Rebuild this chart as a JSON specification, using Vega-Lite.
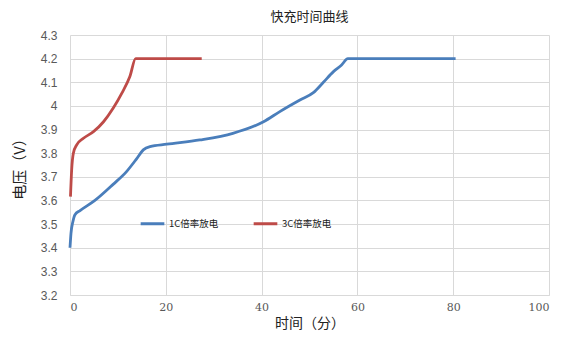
{
  "$schema": "https://vega.github.io/schema/vega-lite/v6.json",
  "width": 479,
  "height": 260,
  "autosize": {"type": "none"},
  "padding": {"left": 70, "top": 35, "right": 24, "bottom": 59},
  "background": "white",
  "title": {"text": "快充时间曲线", "font": "Noto Sans CJK SC", "fontSize": 13, "fontWeight": "normal", "color": "#222222", "offset": 5, "anchor": "middle"},
  "config": {"view": {"stroke": null}},
  "data": {"values": [
    {"t": 0, "v": 3.40, "s": "1C倍率放电"},
    {"t": 0.2, "v": 3.46, "s": "1C倍率放电"},
    {"t": 0.6, "v": 3.51, "s": "1C倍率放电"},
    {"t": 1.04, "v": 3.54, "s": "1C倍率放电"},
    {"t": 2.1, "v": 3.557, "s": "1C倍率放电"},
    {"t": 5.2, "v": 3.60, "s": "1C倍率放电"},
    {"t": 9.0, "v": 3.668, "s": "1C倍率放电"},
    {"t": 11.8, "v": 3.722, "s": "1C倍率放电"},
    {"t": 13.9, "v": 3.776, "s": "1C倍率放电"},
    {"t": 15.3, "v": 3.814, "s": "1C倍率放电"},
    {"t": 16.7, "v": 3.828, "s": "1C倍率放电"},
    {"t": 20.2, "v": 3.838, "s": "1C倍率放电"},
    {"t": 27.1, "v": 3.856, "s": "1C倍率放电"},
    {"t": 34.0, "v": 3.884, "s": "1C倍率放电"},
    {"t": 40.4, "v": 3.933, "s": "1C倍率放电"},
    {"t": 43.8, "v": 3.976, "s": "1C倍率放电"},
    {"t": 48.0, "v": 4.025, "s": "1C倍率放电"},
    {"t": 50.8, "v": 4.056, "s": "1C倍率放电"},
    {"t": 52.9, "v": 4.10, "s": "1C倍率放电"},
    {"t": 55.0, "v": 4.145, "s": "1C倍率放电"},
    {"t": 56.7, "v": 4.173, "s": "1C倍率放电"},
    {"t": 58.0, "v": 4.20, "s": "1C倍率放电"},
    {"t": 70.0, "v": 4.20, "s": "1C倍率放电"},
    {"t": 80.5, "v": 4.20, "s": "1C倍率放电"},
    {"t": 0.1, "v": 3.616, "s": "3C倍率放电"},
    {"t": 0.35, "v": 3.73, "s": "3C倍率放电"},
    {"t": 0.7, "v": 3.80, "s": "3C倍率放电"},
    {"t": 1.4, "v": 3.835, "s": "3C倍率放电"},
    {"t": 2.8, "v": 3.863, "s": "3C倍率放电"},
    {"t": 4.9, "v": 3.891, "s": "3C倍率放电"},
    {"t": 7.0, "v": 3.933, "s": "3C倍率放电"},
    {"t": 9.0, "v": 3.99, "s": "3C倍率放电"},
    {"t": 10.8, "v": 4.053, "s": "3C倍率放电"},
    {"t": 12.5, "v": 4.124, "s": "3C倍率放电"},
    {"t": 13.7, "v": 4.20, "s": "3C倍率放电"},
    {"t": 20.0, "v": 4.20, "s": "3C倍率放电"},
    {"t": 27.5, "v": 4.20, "s": "3C倍率放电"}
  ]},
  "mark": {"type": "line", "strokeWidth": 2.8, "interpolate": "monotone"},
  "encoding": {
    "x": {"field": "t", "type": "quantitative",
      "scale": {"domain": [0, 100], "nice": false, "zero": false},
      "axis": {"values": [0, 20, 40, 60, 80, 100], "title": "时间（分）", "titleFont": "Noto Sans CJK SC", "titleFontSize": 14, "titleFontWeight": "normal", "titleColor": "#222222", "titlePadding": 4,
        "labelFont": "DejaVu Serif", "labelFontSize": 11, "labelColor": "#595959", "labelPadding": 6,
        "ticks": false, "domain": true, "domainColor": "#d9d9d9", "grid": true, "gridColor": "#d9d9d9"}},
    "y": {"field": "v", "type": "quantitative",
      "scale": {"domain": [3.2, 4.3], "nice": false, "zero": false},
      "axis": {"values": [3.2, 3.3, 3.4, 3.5, 3.6, 3.7, 3.8, 3.9, 4.0, 4.1, 4.2, 4.3], "labelExpr": "format(datum.value, '.2~f')", "title": "电压（V）", "titleFont": "Noto Sans CJK SC", "titleFontSize": 15, "titleFontWeight": "normal", "titleColor": "#222222", "titlePadding": 13,
        "labelFont": "Liberation Sans", "labelFontSize": 12, "labelColor": "#595959", "labelPadding": 13,
        "ticks": false, "domain": false, "grid": true, "gridColor": "#d9d9d9"}},
    "color": {"field": "s", "type": "nominal",
      "scale": {"domain": ["1C倍率放电", "3C倍率放电"], "range": ["#4A7EBB", "#BE4B48"]},
      "legend": {"title": null, "orient": "none", "legendX": 69, "legendY": 175, "direction": "horizontal",
        "symbolType": "stroke", "symbolSize": 560, "symbolStrokeWidth": 3, "labelFont": "Noto Sans CJK SC", "labelFontSize": 9.5, "labelColor": "#222222", "columnPadding": 28, "labelOffset": 3}}
  }
}
